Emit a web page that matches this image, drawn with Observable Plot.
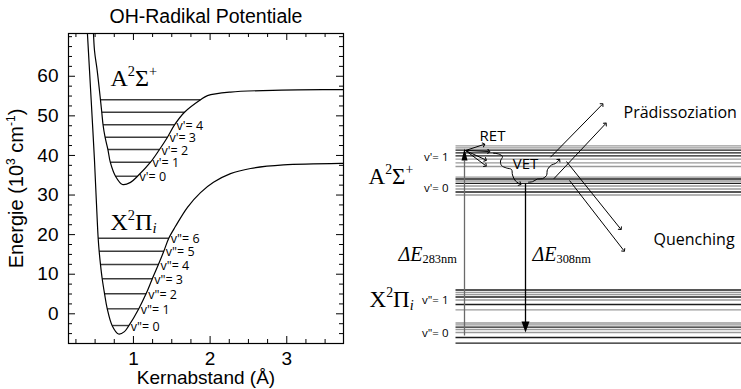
<!DOCTYPE html>
<html><head><meta charset="utf-8">
<script src="https://cdn.jsdelivr.net/npm/d3@7"></script>
<script src="https://cdn.jsdelivr.net/npm/@observablehq/plot@0.6"></script>
<style>
body{margin:0;background:#fff;}
#wrap{display:flex;width:741px;height:389px;overflow:hidden;}
</style></head><body><div id="wrap"></div>
<script>
// ================= LEFT PANEL DATA (Å, 10^3 cm^-1) =================
const xStateR = [0.394,0.427,0.460,0.492,0.516,0.540,0.553,0.570,0.593,0.623,0.658,0.723,0.805,0.883,0.940,1.070,1.166,1.245,1.327,1.396,1.461,1.549,1.705,1.875,2.044,2.266,2.527,2.957,3.74,3.80];
const xStateE = [72.8,61.5,50.1,38.7,28.6,19.1,15.8,12.5,8.8,5.1,1.3,-3.0,-5.1,-4.5,-3.0,1.3,5.1,8.8,12.5,15.8,19.1,22.1,26.9,30.6,33.2,35.4,36.7,37.6,38.0,38.0];
const aStateR = [0.473,0.492,0.527,0.570,0.587,0.604,0.630,0.667,0.698,0.766,0.857,0.962,1.053,1.223,1.340,1.444,1.536,1.666,1.875,1.966,2.266,2.931,3.74,3.80];
const aStateE = [74.1,66.5,61.5,54.05,50.9,47.7,44.6,41.5,38.3,34.75,32.66,33.2,34.75,38.3,41.5,44.6,47.7,50.9,54.05,55.1,56.0,56.5,56.65,56.7];

const xLevelE     = [-2.96,1.26,5.05,8.84,12.45,15.81,19.09];
const xLevelLeft  = [0.723,0.658,0.623,0.593,0.570,0.553,0.540];
const xLevelRight = [0.940,1.070,1.166,1.245,1.327,1.396,1.461];
const xLevelText  = ['v"= 0','v"= 1','v"= 2','v"= 3','v"= 4','v"= 5','v"= 6'];

const aLevelE     = [34.75,38.29,41.50,44.61,47.74,50.92,54.05];
const aLevelLeft  = [0.766,0.698,0.667,0.630,0.604,0.587,0.570];
const aLevelRight = [1.053,1.223,1.340,1.444,1.536,1.666,1.875];
const aLevelText  = ["v'= 0","v'= 1","v'= 2","v'= 3","v'= 4",null,null];

const xDomain = [0.153, 3.74];
const yDomain = [-7.5, 70.8];
const xTickValues = [1, 2, 3];
const yTickValues = [0, 10, 20, 30, 40, 50, 60];

const titleText = "OH-Radikal Potentiale";
const xAxisText = "Kernabstand (Å)";
const yAxisText = "Energie (10{^3} cm{^-1})";
const stateLabelsLeft = [
  {r: 0.701, e: 57.45, text: "A{^2}Σ{^+}"},
  {r: 0.701, e: 21.2, text: "X{^2}Π{_/i}"}
];

// ================= RIGHT PANEL DATA (schematic units) =================
const aV1 = [243.7,241.7,239.3,236.7,233.7,230.3,226.7,223.0];
const aV0 = [212.3,210.5,208.5,206.2,203.5,200.5,197.5,194.5];
const xV1 = [99.5,97.2,95.0,92.5,89.5,85.0,79.7];
const xV0 = [66.5,64.7,62.3,60.0,57.0,52.0,46.3];
const aV1Comp = ["F2","F2","F1","F1","F1","F2","F2","F2"];
const aV0Comp = ["F2","F1","F2","F1","F2","F2","F1","F2"];
const xV1Comp = ["F1","F2","F2","F1","F2","F1","F2"];
const xV0Comp = ["F2","F2","F1","F2","F2","F1","F1"];
const groupNames = ["v'= 1","v'= 0",'v"= 1','v"= 0'];
const levelSpan = [95, 381];

const stateLabelsRight = [
  {x: 8, y: 205.7, text: "A{^2}Σ{^+}"},
  {x: 9, y: 83, text: "X{^2}Π{_/i}"}
];
const excite283 = {x: 104, from: 54, to: 241};
const emit308 = {x: 165, from: 206, to: 57};
const energyLabels = [
  {x: 38, y: 129, text: "{/ΔE}{_283nm}"},
  {x: 172, y: 129, text: "{/ΔE}{_308nm}"}
];
const retOrigin = [105, 239];
const retTargetsX = [123.3, 128.3, 125, 125];
const retTargetsY = [245, 238, 229.7, 224];
const vetWave1X = [133,138,142,140,141,146,151,152,155,159.5];
const vetWave1Y = [236.3,235.5,233,228.5,224,221.5,220,214.5,208.5,205.5];
const vetWave2X = [168,172,177,182,186,187,191,195,198.5];
const vetWave2Y = [207.3,207.8,210.5,210.8,214,220,224.5,226,229.5];
const predisX1 = [190,193.3], predisY1 = [232.3,210.7], predisX2 = [241.7,245], predisY2 = [285,265.7];
const quenchX1 = [206,209], quenchY1 = [228,209], quenchX2 = [260,263.3], quenchY2 = [160.7,139];
const centeredLabels = [
  {x: 132, y: 249, text: "RET"},
  {x: 165, y: 221, text: "VET"}
];
const startLabels = [
  {x: 263, y: 271.7, text: "Prädissoziation"},
  {x: 293, y: 145, text: "Quenching"}
];

// ================= helpers =================
const SVGNS = "http://www.w3.org/2000/svg";
function richify(root) {
  for (const t of root.querySelectorAll("text")) {
    const s = t.textContent;
    if (!s.includes("{")) continue;
    const base = parseFloat(getComputedStyle(t).fontSize) || 16;
    while (t.firstChild) t.removeChild(t.firstChild);
    const re = /\{([\^_]?)(\/?)([^}]*)\}|([^{]+)/g;
    let m, cur = 0;
    while ((m = re.exec(s))) {
      const ts = document.createElementNS(SVGNS, "tspan");
      let shift = 0;
      if (m[4] !== undefined) ts.textContent = m[4];
      else {
        ts.textContent = m[3];
        if (m[1] === "^") { shift = -0.42 * base; ts.setAttribute("font-size", (0.6 * base).toFixed(1)); }
        else if (m[1] === "_") { shift = 0.14 * base; ts.setAttribute("font-size", (0.62 * base).toFixed(1)); }
        if (m[2] === "/") ts.setAttribute("font-style", "italic");
      }
      if (Math.abs(shift - cur) > 1e-6) { ts.setAttribute("dy", (shift - cur).toFixed(2)); cur = shift; }
      t.appendChild(ts);
    }
  }
}

const SANS = "Liberation Sans, Arial, Helvetica, sans-serif";
const SERIF = "Liberation Serif, Times New Roman, serif";
const LBL = "Open Sans, Liberation Sans, sans-serif";

// ================= LEFT PLOT =================
const L = {width: 360, height: 389, ml: 68, mr: 17, mt: 33, mb: 46};
const innerW = L.width - L.ml - L.mr, innerH = L.height - L.mt - L.mb;
const xState = xStateR.map((r, i) => ({r, e: xStateE[i]}));
const aState = aStateR.map((r, i) => ({r, e: aStateE[i]}));
const levels = [
  ...xLevelE.map((e, i) => ({e, r1: xLevelLeft[i], r2: xLevelRight[i], text: xLevelText[i]})),
  ...aLevelE.map((e, i) => ({e, r1: aLevelLeft[i], r2: aLevelRight[i], text: aLevelText[i]}))
];
const yMinor = d3.range(-5, 70.1, 2.5).filter(v => !yTickValues.includes(v));
const xMinor = d3.range(0.25, 3.75, 0.25).filter(v => !xTickValues.includes(v));

const left = Plot.plot({
  width: L.width, height: L.height,
  marginLeft: L.ml, marginRight: L.mr, marginTop: L.mt, marginBottom: L.mb,
  x: {domain: xDomain}, y: {domain: yDomain},
  style: {fontFamily: SANS, fontSize: "19px", color: "black", background: "white"},
  marks: [
    Plot.tickY(yTickValues, {y: d => d, insetRight: innerW - 7, stroke: "black"}),
    Plot.tickY(yTickValues, {y: d => d, insetLeft: innerW - 7, stroke: "black"}),
    Plot.tickY(yMinor, {y: d => d, insetRight: innerW - 4, stroke: "black"}),
    Plot.tickY(yMinor, {y: d => d, insetLeft: innerW - 4, stroke: "black"}),
    Plot.tickX(xTickValues, {x: d => d, insetTop: innerH - 7, stroke: "black"}),
    Plot.tickX(xTickValues, {x: d => d, insetBottom: innerH - 7, stroke: "black"}),
    Plot.tickX(xMinor, {x: d => d, insetTop: innerH - 4, stroke: "black"}),
    Plot.tickX(xMinor, {x: d => d, insetBottom: innerH - 4, stroke: "black"}),
    Plot.axisY({ticks: yTickValues, tickSize: 0, tickPadding: 10, fontSize: 19, label: null, tickFormat: d3.format("d")}),
    Plot.axisX({ticks: xTickValues, tickSize: 0, tickPadding: 8, fontSize: 19, label: null, tickFormat: d3.format("d")}),
    Plot.link(levels, {x1: "r1", x2: "r2", y1: "e", y2: "e", stroke: "#3c3c3c", strokeWidth: 1.4}),
    Plot.line(xState, {x: "r", y: "e", curve: "catmull-rom", clip: true, stroke: "black", strokeWidth: 1.2}),
    Plot.line(aState, {x: "r", y: "e", curve: "catmull-rom", clip: true, stroke: "black", strokeWidth: 1.2}),
    Plot.frame({stroke: "black", strokeWidth: 1.2}),
    Plot.text(levels.filter(d => d.text), {x: "r2", y: "e", text: "text", textAnchor: "start", dx: 2, dy: 1, fontSize: 12.5, fontFamily: LBL}),
    Plot.text(stateLabelsLeft, {x: "r", y: "e", text: "text", textAnchor: "start", lineAnchor: "bottom", fontSize: 24, fontFamily: SERIF}),
    Plot.text([titleText], {text: d => d, frameAnchor: "top", lineAnchor: "middle", textAnchor: "middle", dy: -17, fontSize: 19.5, letterSpacing: "0.5px"}),
    Plot.text([xAxisText], {text: d => d, frameAnchor: "bottom", lineAnchor: "middle", textAnchor: "middle", dy: 34, fontSize: 19}),
    Plot.text([yAxisText], {text: d => d, frameAnchor: "left", lineAnchor: "middle", textAnchor: "middle", dx: -52, rotate: -90, fontSize: 20})
  ]
});

// ================= RIGHT PLOT =================
const R = {width: 381, height: 389};
const group = (vals, comps, name) => vals.map((e, i) => ({e, comp: comps[i], group: name}));
const rLevels = [
  ...group(aV1, aV1Comp, groupNames[0]), ...group(aV0, aV0Comp, groupNames[1]),
  ...group(xV1, xV1Comp, groupNames[2]), ...group(xV0, xV0Comp, groupNames[3])
];
const groupLabels = groupNames.map((g, i) => ({text: g, e: d3.mean([aV1, aV0, xV1, xV0][i])}));
const ret = retTargetsX.map((x, i) => ({x1: retOrigin[0], y1: retOrigin[1], x2: x, y2: retTargetsY[i]}));
const wave1 = vetWave1X.map((x, i) => ({x, y: vetWave1Y[i]}));
const wave2 = vetWave2X.map((x, i) => ({x, y: vetWave2Y[i]}));
const predis = predisX1.map((x, i) => ({x1: x, y1: predisY1[i], x2: predisX2[i], y2: predisY2[i]}));
const quench = quenchX1.map((x, i) => ({x1: x, y1: quenchY1[i], x2: quenchX2[i], y2: quenchY2[i]}));

const right = Plot.plot({
  width: R.width, height: R.height,
  marginLeft: 0, marginRight: 0, marginTop: 0, marginBottom: 0,
  x: {domain: [0, R.width], axis: null},
  y: {domain: [0, R.height], axis: null},
  color: {domain: ["F1", "F2"], range: ["#1e1e1e", "#9a9a9a"]},
  style: {fontFamily: LBL, fontSize: "14px", color: "black", background: "white"},
  marks: [
    Plot.link(rLevels, {x1: levelSpan[0], x2: levelSpan[1], y1: "e", y2: "e", stroke: "comp", strokeWidth: 1.3}),
    Plot.text(groupLabels, {x: levelSpan[0], y: "e", text: "text", textAnchor: "end", dx: -7, dy: 2.5, fontSize: 11.5}),
    Plot.link([excite283], {x1: "x", x2: "x", y1: "from", y2: d => d.to - 12, stroke: "#6a6a6a", strokeWidth: 1.3}),
    Plot.vector([excite283], {x: "x", y: d => d.to, length: 12, r: 3, shape: "spike", anchor: "end", rotate: 0, fill: "black", stroke: "none"}),
    Plot.link([emit308], {x1: "x", x2: "x", y1: "from", y2: d => d.to + 10, stroke: "black", strokeWidth: 1.3}),
    Plot.vector([emit308], {x: "x", y: d => d.to, length: 11, r: 4, shape: "spike", anchor: "end", rotate: 180, fill: "black", stroke: "none"}),
    Plot.link(ret, {x1: "x1", y1: "y1", x2: "x2", y2: "y2", stroke: "black", strokeWidth: 1, markerEnd: "arrow"}),
    Plot.line(wave1, {x: "x", y: "y", curve: "catmull-rom", stroke: "black", strokeWidth: 1, markerEnd: "arrow"}),
    Plot.line(wave2, {x: "x", y: "y", curve: "catmull-rom", stroke: "black", strokeWidth: 1, markerEnd: "arrow"}),
    Plot.link(predis, {x1: "x1", y1: "y1", x2: "x2", y2: "y2", stroke: "black", strokeWidth: 1, markerEnd: "arrow"}),
    Plot.link(quench, {x1: "x1", y1: "y1", x2: "x2", y2: "y2", stroke: "black", strokeWidth: 1, markerEnd: "arrow"}),
    Plot.text(centeredLabels, {x: "x", y: "y", text: "text", textAnchor: "middle", lineAnchor: "bottom", fontSize: 15}),
    Plot.text(startLabels, {x: "x", y: "y", text: "text", textAnchor: "start", lineAnchor: "bottom", fontSize: 16}),
    Plot.text(stateLabelsRight, {x: "x", y: "y", text: "text", textAnchor: "start", lineAnchor: "bottom", fontSize: 23, fontFamily: SERIF}),
    Plot.text(energyLabels, {x: "x", y: "y", text: "text", textAnchor: "start", lineAnchor: "bottom", fontSize: 20, fontFamily: SERIF})
  ]
});

const wrap = document.getElementById("wrap");
wrap.appendChild(left);
wrap.appendChild(right);
richify(left);
richify(right);
</script>
</body></html>
